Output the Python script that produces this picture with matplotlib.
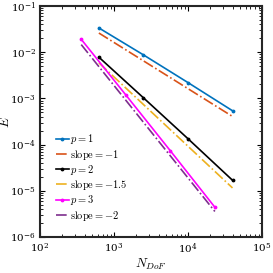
import numpy as np
import matplotlib
matplotlib.use("Agg")
import matplotlib.pyplot as plt

plt.rcParams['mathtext.fontset'] = 'cm'
plt.rcParams['font.family'] = 'serif'
plt.rcParams['font.serif'] = ['DejaVu Serif']

# data
N_p1 = [625, 2500, 10000, 40000]
E_p1 = [0.0335, 0.00875, 0.0022, 0.00054]
N_p2 = [625, 2500, 10000, 40000]
E_p2 = [0.0078, 0.00103, 1.34e-4, 1.69e-5]
N_p3 = [361, 1444, 5776, 23104]
E_p3 = [0.019, 1.19e-3, 7.35e-5, 4.4e-6]

ref1_c = 0.026 * 625
ref15_c = 0.0059 * 625 ** 1.5
ref2_c = 0.0146 * 361 ** 2

fig = plt.figure(figsize=(2.73, 2.73), dpi=100)
ax = fig.add_axes([0.1465, 0.132, 0.813, 0.846])

c_blue = (0, 0.447, 0.741)
c_orange = (0.85, 0.325, 0.098)
c_yellow = (0.929, 0.694, 0.125)
c_mag = (1, 0, 1)
c_purp = (0.494, 0.184, 0.556)

N1 = np.array(N_p1, float)
N2 = np.array(N_p2, float)
N3 = np.array(N_p3, float)

lw = 1.2
ax.loglog(N1, E_p1, '-', color=c_blue, lw=lw, marker='.', ms=3.5, label=r'$p=1$')
ax.loglog(N1, ref1_c * N1 ** -1.0, '-.', color=c_orange, lw=lw, label=r'$\mathrm{slope}=-1$')
ax.loglog(N2, E_p2, '-', color='k', lw=lw, marker='.', ms=3.5, label=r'$p=2$')
ax.loglog(N2, ref15_c * N2 ** -1.5, '-.', color=c_yellow, lw=lw, label=r'$\mathrm{slope}=-1.5$')
ax.loglog(N3, E_p3, '-', color=c_mag, lw=lw, marker='.', ms=3.5, label=r'$p=3$')
ax.loglog(N3, ref2_c * N3 ** -2.0, '-.', color=c_purp, lw=lw, label=r'$\mathrm{slope}=-2$')

ax.set_xlim(1e2, 1e5)
ax.set_ylim(1e-6, 1e-1)
ax.tick_params(which='both', direction='in', top=True, right=True, labelsize=7.5)
ax.tick_params(which='major', length=3.5, width=0.8, pad=3)
ax.tick_params(which='minor', length=2, width=0.6)
for s in ax.spines.values():
    s.set_linewidth(1.5)
    s.set_color('#262626')

ax.set_xlabel(r'$N_{DoF}$', fontsize=9.5, labelpad=1)
ax.set_ylabel(r'$E$', fontsize=9.5)
ax.yaxis.set_label_coords(-0.125, 0.5)

leg = ax.legend(loc='lower left', bbox_to_anchor=(0.045, 0.035), frameon=False,
                fontsize=7.5, handlelength=1.2, handletextpad=0.15, labelspacing=0.12,
                borderaxespad=0.2)

fig.savefig('out.png', dpi=100)
